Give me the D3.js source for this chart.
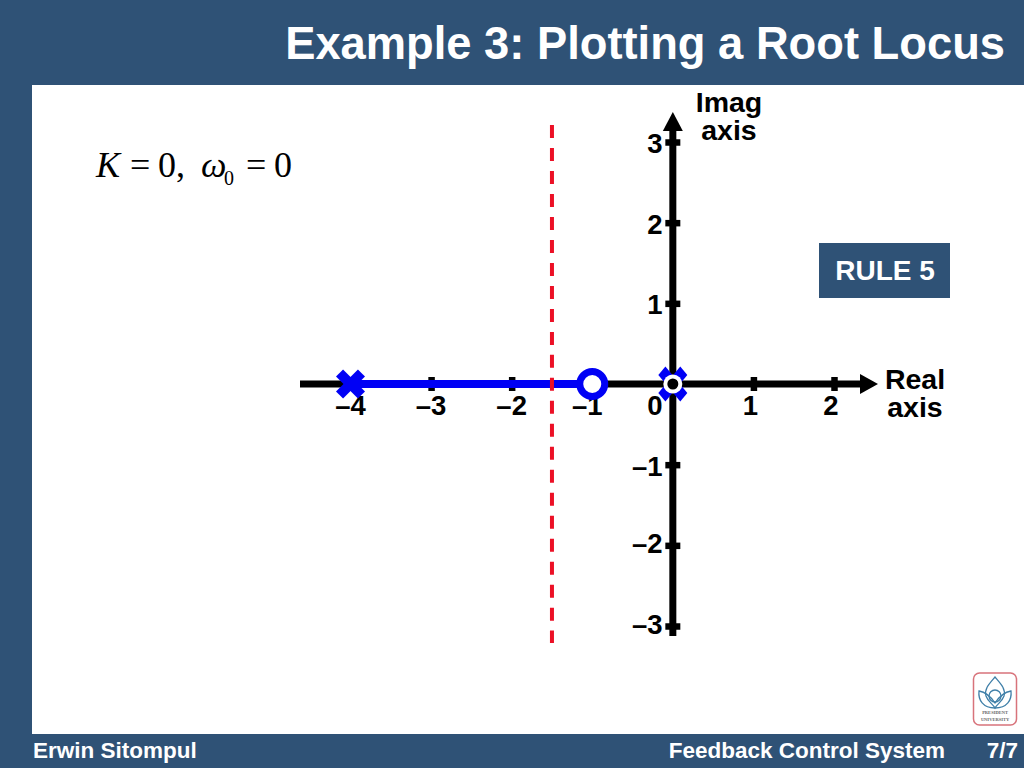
<!DOCTYPE html>
<html>
<head>
<meta charset="utf-8">
<script src="https://cdnjs.cloudflare.com/ajax/libs/d3/7.8.5/d3.min.js"></script>
<style>
  html, body { margin: 0; padding: 0; background: #fff; }
  svg { display: block; }
  text { font-family: "Liberation Sans", Arial, sans-serif; font-weight: bold; }
</style>
</head>
<body>
<div id="chart"></div>
<script>
const realTicks = [-4, -3, -2, -1, 0, 1, 2];
const imagTicks = [-3, -2, -1, 1, 2, 3];
const poles = [-4, 0];
const zeros = [-1];
const locusSegment = [-4, -1];
const asymptoteCentroid = -1.5;
const asymptoteExtent = [-3.21, 3.21];

const svg = d3.select('#chart').append('svg').attr('width', 1024).attr('height', 768);

const navy = '#2f5276';
const blue = '#0000f5';
const fmt = (d) => (d < 0 ? '\u2013' + Math.abs(d) : '' + d);

// Slide frame
svg.append('rect').attr('width', 1024).attr('height', 768).attr('fill', navy);
svg.append('rect').attr('x', 32).attr('y', 85).attr('width', 992).attr('height', 649).attr('fill', '#fff');

svg.append('text').attr('x', 1005).attr('y', 59).attr('text-anchor', 'end')
  .attr('font-size', 45.3).attr('fill', '#fff').text('Example 3: Plotting a Root Locus');
svg.append('text').attr('x', 33).attr('y', 758).attr('font-size', 22.5).attr('fill', '#fff').text('Erwin Sitompul');
svg.append('text').attr('x', 945).attr('y', 758).attr('text-anchor', 'end').attr('font-size', 22.5).attr('fill', '#fff').text('Feedback Control System');
svg.append('text').attr('x', 1018).attr('y', 758).attr('text-anchor', 'end').attr('font-size', 22.5).attr('fill', '#fff').text('7/7');

// Scales
const x = d3.scaleLinear().domain([-4, 2]).range([350.5, 834]);
const y = d3.scaleLinear().domain([-3, 3]).range([626, 142]);
const originX = x(0);
const originY = y(0);

// Axes: the library draws the tick marks, labels are placed after
const xAxis = d3.axisBottom(x).tickValues(realTicks).tickSize(7).tickFormat('');
const yAxis = d3.axisLeft(y).tickValues(imagTicks).tickSize(7).tickFormat('');

const gx = svg.append('g').attr('transform', `translate(0,${originY})`).call(xAxis);
gx.select('.domain').remove();
gx.selectAll('.tick line').attr('y1', -7).attr('y2', 7).attr('stroke', '#000').attr('stroke-width', 6.5);

const gy = svg.append('g').attr('transform', `translate(${originX},0)`).call(yAxis);
gy.select('.domain').remove();
gy.selectAll('.tick line').attr('x1', -7.5).attr('x2', 7.5).attr('stroke', '#000').attr('stroke-width', 6.5);

// Axis lines with arrow heads
svg.append('line').attr('x1', 300).attr('x2', 864).attr('y1', originY).attr('y2', originY)
  .attr('stroke', '#000').attr('stroke-width', 7);
svg.append('path').attr('d', `M878,${originY}L860,${originY - 10}L860,${originY + 10}Z`).attr('fill', '#000');
svg.append('line').attr('x1', originX).attr('x2', originX).attr('y1', 636).attr('y2', 125)
  .attr('stroke', '#000').attr('stroke-width', 7);
svg.append('path').attr('d', `M${originX},112L${originX - 10},131L${originX + 10},131Z`).attr('fill', '#000');

// Tick labels
svg.selectAll('.xlab').data(realTicks).enter().append('text').attr('class', 'xlab')
  .attr('x', (d) => x(d) + (d === 0 ? -18 : d === -1 ? -5 : d > 0 ? -3 : 0))
  .attr('y', 415).attr('text-anchor', 'middle').attr('font-size', 27.5).attr('fill', '#000').text(fmt);
svg.selectAll('.ylab').data(imagTicks).enter().append('text').attr('class', 'ylab')
  .attr('x', 662.5).attr('y', (d) => y(d) + (d >= -1 ? 11 : 8)).attr('text-anchor', 'end')
  .attr('font-size', 27.5).attr('fill', '#000').text(fmt);

// Axis titles
[['Imag', 729, 112], ['axis', 729, 140], ['Real', 915, 389], ['axis', 915, 417]].forEach(([t, tx, ty]) => {
  svg.append('text').attr('x', tx).attr('y', ty).attr('text-anchor', 'middle').attr('font-size', 28.5).attr('fill', '#000').text(t);
});

// Root locus segment
svg.append('line').attr('x1', x(locusSegment[0])).attr('x2', x(locusSegment[1]))
  .attr('y1', originY).attr('y2', originY).attr('stroke', blue).attr('stroke-width', 8);

// Asymptote
svg.append('line').attr('x1', x(asymptoteCentroid)).attr('x2', x(asymptoteCentroid))
  .attr('y1', y(asymptoteExtent[1])).attr('y2', y(asymptoteExtent[0]))
  .attr('stroke', '#ec1026').attr('stroke-width', 4).attr('stroke-dasharray', '13 9.98');

// Poles (the one at the origin is a bit taller in the slide)
const pole = svg.selectAll('.pole').data(poles).enter().append('g').attr('class', 'pole')
  .attr('transform', (d) => `translate(${x(d)},${originY}) scale(1,${d === 0 ? 1.2 : 1}) rotate(45)`);
[[-15.5, 0, 15.5, 0], [0, -15.5, 0, 15.5]].forEach(([x1, y1, x2, y2]) => {
  pole.append('line').attr('x1', x1).attr('y1', y1).attr('x2', x2).attr('y2', y2)
    .attr('stroke', blue).attr('stroke-width', 10);
});

// Zero at -1
svg.selectAll('.zero').data(zeros).enter().append('circle').attr('class', 'zero')
  .attr('cx', (d) => x(d)).attr('cy', originY).attr('r', 12.5)
  .attr('fill', '#fff').attr('stroke', blue).attr('stroke-width', 7);

// Root at the origin: white ring, black dot
svg.append('circle').attr('cx', originX).attr('cy', originY).attr('r', 9.5).attr('fill', '#fff');
svg.append('circle').attr('cx', originX).attr('cy', originY).attr('r', 5.5).attr('fill', '#000');

// Equation
const eq = svg.append('g').attr('fill', '#000');
const eqText = (t, tx, ty, size, italic) => eq.append('text').attr('x', tx).attr('y', ty)
  .style('font-family', '"Liberation Serif", "Times New Roman", serif').style('font-weight', 'normal')
  .attr('font-size', size).attr('font-style', italic ? 'italic' : 'normal').text(t);
eqText('K', 96, 177, 36, true);
eqText('=', 130, 177, 36);
eqText('0,', 158, 177, 36);
eqText('\u03c9', 201, 177, 36, true);
eqText('0', 224, 185, 20);
eqText('=', 246, 177, 36);
eqText('0', 274, 177, 36);

// Rule box
svg.append('rect').attr('x', 819).attr('y', 243).attr('width', 131).attr('height', 55).attr('fill', navy);
svg.append('text').attr('x', 885).attr('y', 280).attr('text-anchor', 'middle').attr('font-size', 28).attr('fill', '#fff').text('RULE 5');

// Logo
const logo = svg.append('g').attr('transform', 'translate(995,699)');
logo.append('rect').attr('x', -21.5).attr('y', -26).attr('width', 43).attr('height', 52).attr('rx', 6)
  .attr('fill', '#fff').attr('stroke', '#d8737b').attr('stroke-width', 1.5);
const petal = logo.append('g').attr('fill', 'none').attr('stroke', '#3f7fa8').attr('stroke-width', 1.3);
petal.append('path').attr('d', 'M0,-22C-6,-15 -11,-10 -9,-3C-7,3 -2,5 0,9C2,5 7,3 9,-3C11,-10 6,-15 0,-22Z');
petal.append('path').attr('d', 'M-16,-8C-17,1 -12,9 0,9C12,9 17,1 16,-8C10,-7 4,-2 0,4C-4,-2 -10,-7 -16,-8Z');
petal.append('circle').attr('cy', -3).attr('r', 6);
logo.append('text').attr('y', 15).attr('text-anchor', 'middle').attr('font-size', 4.5).style('font-family', '"Liberation Serif", serif').attr('fill', '#666').text('PRESIDENT');
logo.append('text').attr('y', 22).attr('text-anchor', 'middle').attr('font-size', 4.5).style('font-family', '"Liberation Serif", serif').attr('fill', '#666').text('UNIVERSITY');
</script>
</body>
</html>
